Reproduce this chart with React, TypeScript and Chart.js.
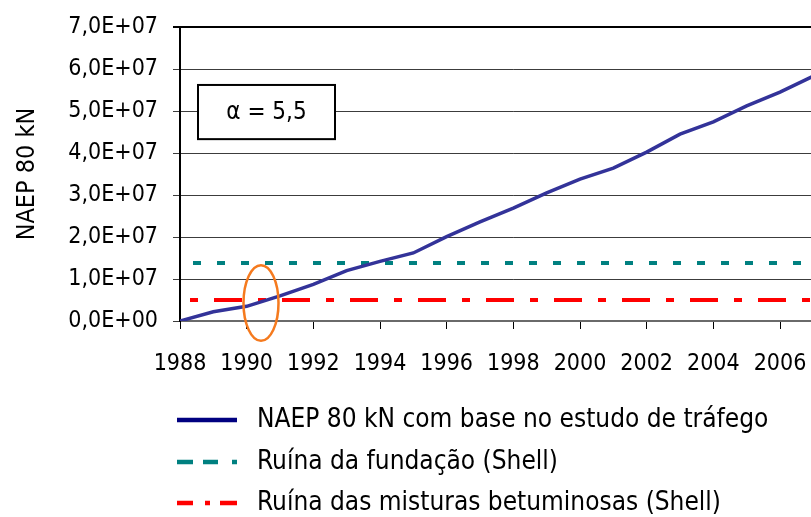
import React, { useEffect, useRef } from "react";
import { Chart, registerables } from "chart.js";

Chart.register(...registerables);

// ---- data ----
const years = [1988, 1989, 1990, 1991, 1992, 1993, 1994, 1995, 1996, 1997, 1998, 1999, 2000, 2001, 2002, 2003, 2004, 2005, 2006, 2007];
const naepValues = [0, 2.2e6, 3.5e6, 6.0e6, 8.7e6, 1.2e7, 1.42e7, 1.62e7, 2.01e7, 2.36e7, 2.69e7, 3.05e7, 3.38e7, 3.64e7, 4.02e7, 4.45e7, 4.74e7, 5.12e7, 5.45e7, 5.83e7];
const foundationRuin = 1.38e7;
const mixtureRuin = 5.0e6;
const lineSpan = [1988, 2008];
const xTickValues = [1988, 1990, 1992, 1994, 1996, 1998, 2000, 2002, 2004, 2006, 2008];
const yTickValues = [0, 1e7, 2e7, 3e7, 4e7, 5e7, 6e7, 7e7];
const seriesLabels = [
  "NAEP 80 kN com base no estudo de tráfego",
  "Ruína da fundação (Shell)",
  "Ruína das misturas betuminosas (Shell)",
];
const yTitle = "NAEP 80 kN";
const alphaText = "α = 5,5";
// annotation placement in data units
const alphaBox = { x0: 1988.54, x1: 1992.65, y0: 4.33e7, y1: 5.62e7 };
const highlight = { x: 1990.43, y: 4.3e6, rx: 0.525, ry: 9.0e6 };

const FONT = '"DejaVu Sans Condensed", "DejaVu Sans", sans-serif';

function sci(v: number): string {
  if (v === 0) return "0,0E+00";
  const e = Math.floor(Math.log10(v) + 1e-9);
  const m = v / Math.pow(10, e);
  return m.toFixed(1).replace(".", ",") + "E+" + String(e).padStart(2, "0");
}

const annotationPlugin = {
  id: "annot",
  afterDatasetsDraw(chart: any) {
    const { ctx, scales } = chart;
    const xs = scales.x;
    const ys = scales.y;
    ctx.save();
    // alpha box
    const bx0 = xs.getPixelForValue(alphaBox.x0);
    const bx1 = xs.getPixelForValue(alphaBox.x1);
    const by0 = ys.getPixelForValue(alphaBox.y1);
    const by1 = ys.getPixelForValue(alphaBox.y0);
    ctx.fillStyle = "#ffffff";
    ctx.fillRect(bx0, by0, bx1 - bx0, by1 - by0);
    ctx.strokeStyle = "#000000";
    ctx.lineWidth = 2;
    ctx.strokeRect(bx0, by0, bx1 - bx0, by1 - by0);
    ctx.fillStyle = "#000000";
    ctx.font = `24px ${FONT}`;
    ctx.textAlign = "center";
    ctx.textBaseline = "middle";
    ctx.fillText(alphaText, (bx0 + bx1) / 2, (by0 + by1) / 2 + 1);
    // highlight ellipse
    const cx = xs.getPixelForValue(highlight.x);
    const cy = ys.getPixelForValue(highlight.y);
    const rx = Math.abs(xs.getPixelForValue(highlight.x + highlight.rx) - cx);
    const ry = Math.abs(ys.getPixelForValue(highlight.y + highlight.ry) - cy);
    ctx.beginPath();
    ctx.ellipse(cx, cy, rx, ry, 0, 0, Math.PI * 2);
    ctx.strokeStyle = "#F57A1E";
    ctx.lineWidth = 2.5;
    ctx.stroke();
    ctx.restore();
  },
};

const legendPlugin = {
  id: "customLegend",
  afterDraw(chart: any) {
    const { ctx } = chart;
    const ds = chart.data.datasets;
    ctx.save();
    const x0 = 177;
    const x1 = 237;
    const tx = 257;
    const rows = [420, 462, 503];
    ds.forEach((d: any, i: number) => {
      const y = rows[i];
      ctx.beginPath();
      ctx.setLineDash(d.legendDash || []);
      ctx.lineDashOffset = 0;
      ctx.lineCap = "butt";
      ctx.strokeStyle = d.legendColor || d.borderColor;
      ctx.lineWidth = 4.5;
      ctx.moveTo(x0, y);
      ctx.lineTo(x1, y);
      ctx.stroke();
      ctx.setLineDash([]);
      ctx.fillStyle = "#000000";
      ctx.font = `26px ${FONT}`;
      ctx.textAlign = "left";
      ctx.textBaseline = "middle";
      ctx.fillText(d.label, tx, y);
    });
    ctx.restore();
  },
};

export default function App() {
  const ref = useRef<HTMLCanvasElement | null>(null);
  useEffect(() => {
    document.body.style.margin = "0";
    const canvas = ref.current;
    if (!canvas) return;
    Chart.defaults.font.family = FONT;
    Chart.defaults.color = "#000000";
    const chart = new Chart(canvas, {
      type: "line",
      data: {
        datasets: [
          {
            label: seriesLabels[0],
            data: years.map((y, i) => ({ x: y, y: naepValues[i] })),
            borderColor: "#333399",
            legendColor: "#000080",
            borderWidth: 3.5,
            pointRadius: 0,
            tension: 0,
            fill: false,
          } as any,
          {
            label: seriesLabels[1],
            data: lineSpan.map((y) => ({ x: y, y: foundationRuin })),
            borderColor: "#008080",
            borderWidth: 4,
            borderDash: [8, 16],
            borderDashOffset: 11,
            legendDash: [16, 10, 15, 14, 5, 0],
            pointRadius: 0,
            fill: false,
          } as any,
          {
            label: seriesLabels[2],
            data: lineSpan.map((y) => ({ x: y, y: mixtureRuin })),
            borderColor: "#FF0000",
            borderWidth: 4,
            borderDash: [8, 16, 28, 16],
            borderDashOffset: 58,
            legendDash: [16, 12, 5, 10, 17, 0],
            pointRadius: 0,
            fill: false,
          } as any,
        ],
      },
      options: {
        animation: false,
        responsive: false,
        devicePixelRatio: 1,
        layout: { padding: { top: 27, left: 0, right: 33.33, bottom: 146 } },
        plugins: {
          legend: { display: false },
          tooltip: { enabled: false },
        },
        scales: {
          x: {
            type: "linear",
            min: 1988,
            max: 2008,
            afterFit: (s: any) => {
              s.height = 50;
              s.paddingLeft = 0;
              s.paddingRight = 0;
              s.paddingTop = 0;
              s.paddingBottom = 0;
            },
            afterBuildTicks: (s: any) => {
              s.ticks = xTickValues.map((v) => ({ value: v }));
            },
            ticks: {
              font: { size: 23 },
              color: "#000000",
              padding: 21,
              maxRotation: 0,
              autoSkip: false,
              callback: (v: any) => String(v),
            },
            grid: {
              drawOnChartArea: false,
              drawTicks: true,
              tickLength: 8,
              color: "#000000",
              lineWidth: 1,
            },
            border: { display: true, color: "#6a6a6a", width: 2 },
          },
          y: {
            type: "linear",
            min: 0,
            max: 7e7,
            afterFit: (s: any) => {
              s.width = 180;
              s.paddingLeft = 0;
              s.paddingRight = 0;
              s.paddingTop = 0;
              s.paddingBottom = 0;
            },
            afterBuildTicks: (s: any) => {
              s.ticks = yTickValues.map((v) => ({ value: v }));
            },
            ticks: {
              font: { size: 23 },
              color: "#000000",
              padding: 15,
              callback: (v: any) => sci(Number(v)),
            },
            grid: {
              color: (c: any) => (c.tick && c.tick.value === 7e7 ? "#000000" : "#3c3c3c"),
              lineWidth: (c: any) => (c.tick && c.tick.value === 7e7 ? 2 : 1),
              tickLength: 7,
            },
            border: { display: true, color: "#000000", width: 2 },
            title: {
              display: true,
              text: yTitle,
              font: { size: 25 },
              color: "#000000",
              padding: { top: 12, bottom: 0 },
            },
          },
        },
      },
      plugins: [annotationPlugin, legendPlugin],
    });
    return () => chart.destroy();
  }, []);
  return (
    <div style={{ position: "absolute", left: 0, top: 0, width: 811, height: 517, overflow: "hidden", background: "#fff" }}>
      <canvas ref={ref} width={880} height={517} style={{ display: "block" }} />
    </div>
  );
}
